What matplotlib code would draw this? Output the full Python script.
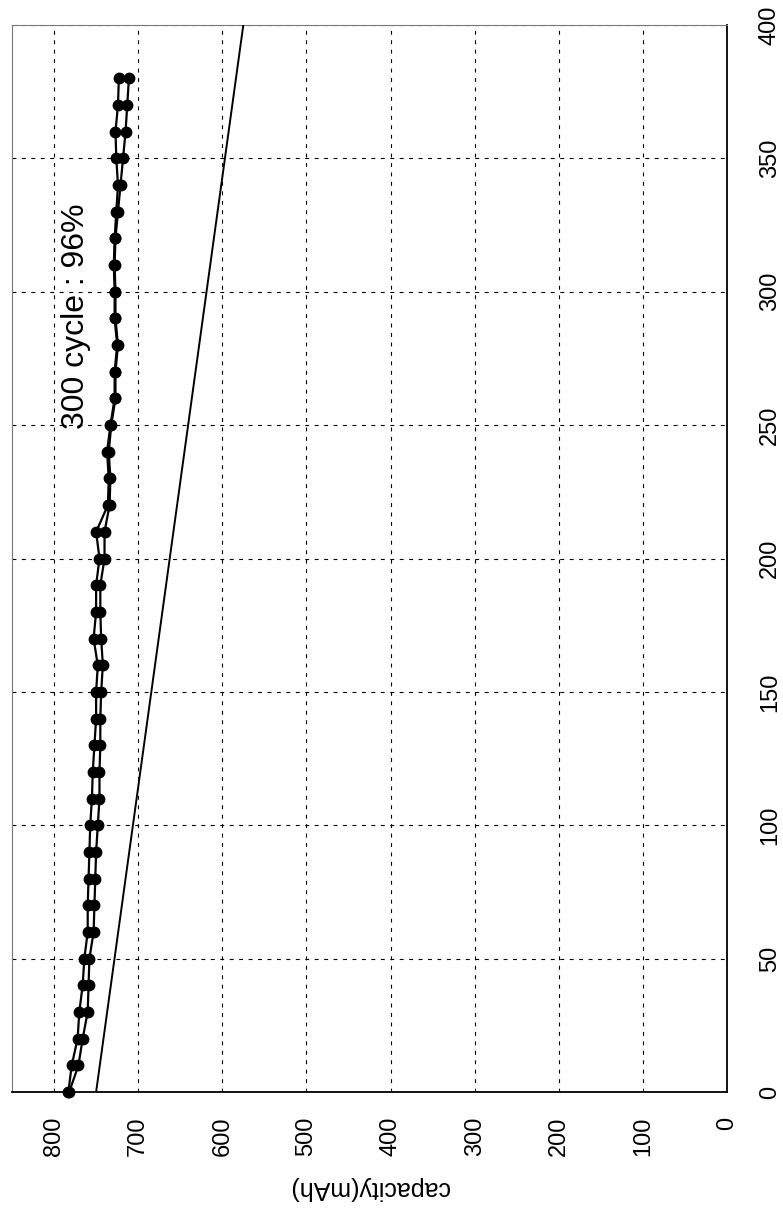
import numpy as np
import matplotlib
matplotlib.use("Agg")
import matplotlib.pyplot as plt

plt.rcParams['font.family'] = ['Liberation Sans', 'DejaVu Sans']

# cycle number for each measured point
cycles = [0, 10, 20, 30, 40, 50, 60, 70, 80, 90,
          100, 110, 120, 130, 140, 150, 160, 170, 180, 190,
          200, 210, 220, 230, 240, 250, 260, 270, 280, 290,
          300, 310, 320, 330, 340, 350, 360, 370, 380]

# capacity (mAh) of the two cells
cell_a = [783, 779, 772, 770, 766, 764, 760, 760, 759, 758,
          757, 755, 754, 752, 750, 750, 748, 753, 750, 750,
          746, 750, 736, 735, 737, 733, 728, 728, 725, 728,
          728, 729, 728, 726, 724, 726, 727, 724, 723]
cell_b = [782, 771, 766, 760, 759, 758, 753, 752, 751, 750,
          748, 746, 746, 745, 745, 744, 742, 744, 745, 745,
          740, 740, 734, 733, 735, 732, 727, 727, 724, 727,
          727, 728, 727, 724, 721, 718, 715, 713, 711]

# straight reference line
ref_cycles = [0, 400]
ref_capacity = [750, 575]

cap_ticks = [0, 100, 200, 300, 400, 500, 600, 700, 800]
cycle_ticks = [0, 50, 100, 150, 200, 250, 300, 350, 400]

fig = plt.figure(figsize=(7.83, 12.15), dpi=100)
ax = fig.add_axes([12 / 783, 1 - 1092 / 1215, 715 / 783, 1067 / 1215])

# the chart is drawn turned on its side: capacity runs right-to-left, cycles bottom-to-top
ax.plot(cell_a, cycles, '-o', color='black', lw=1.6, ms=7.5, clip_on=False, zorder=4)
ax.plot(cell_b, cycles, '-o', color='black', lw=1.6, ms=7.5, clip_on=False, zorder=4)
ax.plot(ref_capacity, ref_cycles, '-', color='black', lw=1.4, zorder=3)

ax.set_xlim(850, 0)
ax.set_ylim(0, 400)
ax.set_xticks(cap_ticks)
ax.set_yticks(cycle_ticks)
ax.yaxis.tick_right()
ax.tick_params(axis='x', length=0, pad=18, labelsize=17, labelrotation=90)
ax.tick_params(axis='y', length=0, pad=23, labelsize=17, labelrotation=90)
for lab in ax.get_yticklabels():
    lab.set_verticalalignment('center')

ax.grid(True, color='black', lw=0.8, linestyle=(0, (3.5, 5)))
ax.set_axisbelow(True)

ax.set_xlabel('capacity(mAh)', rotation=180, fontsize=18, labelpad=14)

ax.text(774, 291, '300 cycle : 96%', rotation=90, fontsize=23,
        ha='center', va='center')

for side in ['left', 'top']:
    ax.spines[side].set_color('#777777')
    ax.spines[side].set_linewidth(0.8)
for side in ['right', 'bottom']:
    ax.spines[side].set_color('black')
    ax.spines[side].set_linewidth(1.3)

fig.savefig('out.png', dpi=100)
